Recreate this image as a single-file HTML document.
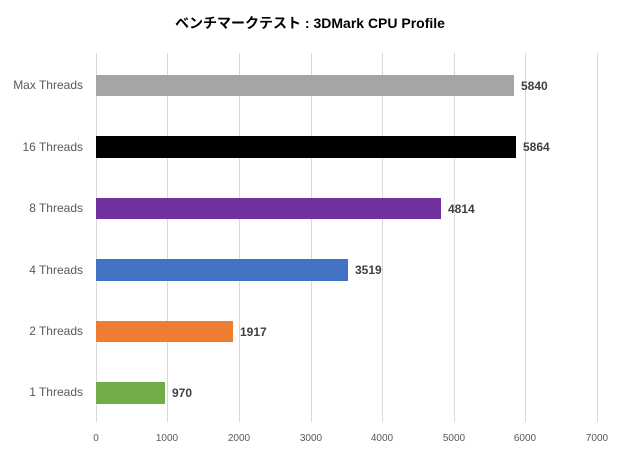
<!DOCTYPE html>
<html><head><meta charset="utf-8"><style>html,body{margin:0;padding:0;background:#fff}svg{display:block}</style></head>
<body>
<svg width="620" height="450" xmlns="http://www.w3.org/2000/svg" font-family="'Liberation Sans','Noto Sans CJK JP',sans-serif">
<text x="310" y="28" text-anchor="middle" font-size="14" font-weight="bold" fill="#000">ベンチマークテスト : 3DMark CPU Profile</text>
<g stroke="#d9d9d9" stroke-width="1">
<line x1="96.5" y1="53" x2="96.5" y2="422"/>
<line x1="167.5" y1="53" x2="167.5" y2="422"/>
<line x1="239.5" y1="53" x2="239.5" y2="422"/>
<line x1="311.5" y1="53" x2="311.5" y2="422"/>
<line x1="382.5" y1="53" x2="382.5" y2="422"/>
<line x1="454.5" y1="53" x2="454.5" y2="422"/>
<line x1="525.5" y1="53" x2="525.5" y2="422"/>
<line x1="597.5" y1="53" x2="597.5" y2="422"/>
</g>
<rect x="96" y="75" width="418" height="21" fill="#a5a5a5"/>
<rect x="96" y="136" width="420" height="22" fill="#000"/>
<rect x="96" y="198" width="345" height="21" fill="#7030a0"/>
<rect x="96" y="259" width="252" height="22" fill="#4472c4"/>
<rect x="96" y="321" width="137" height="21" fill="#ed7d31"/>
<rect x="96" y="382" width="69" height="22" fill="#70ad47"/>
<g font-size="12" fill="#595959" text-anchor="end">
<text x="83" y="89">Max Threads</text>
<text x="83" y="151">16 Threads</text>
<text x="83" y="212">8 Threads</text>
<text x="83" y="274">4 Threads</text>
<text x="83" y="335">2 Threads</text>
<text x="83" y="396">1 Threads</text>
</g>
<g font-size="12" font-weight="bold" fill="#404040">
<text x="521" y="90">5840</text>
<text x="523" y="151">5864</text>
<text x="448" y="213">4814</text>
<text x="355" y="274">3519</text>
<text x="240" y="336">1917</text>
<text x="172" y="397">970</text>
</g>
<g font-size="10" fill="#595959" text-anchor="middle">
<text x="96" y="441">0</text>
<text x="167" y="441">1000</text>
<text x="239" y="441">2000</text>
<text x="311" y="441">3000</text>
<text x="382" y="441">4000</text>
<text x="454" y="441">5000</text>
<text x="525" y="441">6000</text>
<text x="597" y="441">7000</text>
</g>
</svg>
</body></html>
